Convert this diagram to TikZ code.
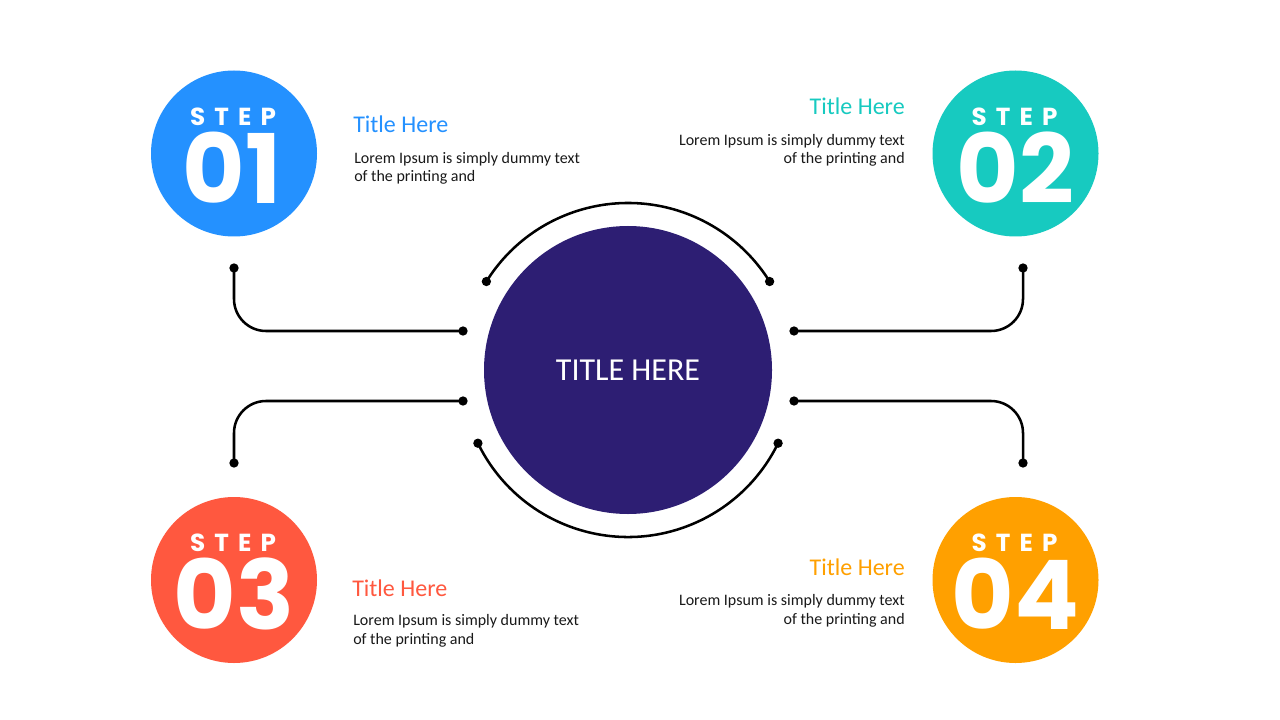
\documentclass[tikz,border=0pt]{standalone}
\usepackage{fontspec}
\setmainfont{Carlito}
\newfontfamily\stepfont[LetterSpace=37]{Poppins}
\newfontfamily\numfont{Poppins}
\usetikzlibrary{
    positioning,
    calc
}

\definecolor{stepblue}{RGB}{36,145,255}
\definecolor{stepteal}{RGB}{23,202,192}
\definecolor{stepred}{RGB}{255,88,63}
\definecolor{steporange}{RGB}{255,160,0}
\definecolor{hubnavy}{RGB}{45,30,115}
\definecolor{bodygray}{RGB}{25,25,25}

\tikzset{
  stepcircle/.style={circle, inner sep=0pt, minimum size=124.5pt},
  steptag/.style={inner sep=0pt, text=white, font=\stepfont\bfseries\fontsize{18.5}{18.5}\selectfont},
  stepnum/.style={inner sep=0pt, text=white, font=\numfont\bfseries\fontsize{72}{72}\selectfont},
  steptitle/.style={inner sep=0pt, font=\fontsize{18}{20}\selectfont},
  stepbody/.style={inner sep=0pt, text=bodygray, font=\fontsize{12}{13.8}\selectfont},
  wire/.style={line width=1.9pt, black},
  dot/.style={circle, fill=black, inner sep=0pt, minimum size=7pt}
}

\begin{document}
\begin{tikzpicture}[x=0.75pt, y=-0.75pt]

  \useasboundingbox[fill=white] (0,0) rectangle (1280,720);

  % hub {{{
  \node[
    stepcircle,
    fill=hubnavy,
    minimum size=216pt,
    text=white,
    font=\fontsize{24}{28}\selectfont
  ] (hub) at (628,370)
  {TITLE HERE};
  % }}}

  % ring {{{
  \node[dot] (ringtl) at ($(hub)+(212:167)$) {};
  \node[dot] (ringtr) at ($(hub)+(328:167)$) {};
  \node[dot] (ringbl) at ($(hub)+(154:167)$) {};
  \node[dot] (ringbr) at ($(hub)+(26:167)$) {};
  \draw[wire] (ringtl.center) arc[start angle=212, end angle=328, radius=167];
  \draw[wire] (ringbl.center) arc[start angle=154, end angle=26, radius=167];
  % }}}

  % step 01 {{{
  \node[stepcircle, fill=stepblue] (s1) at (234,153.5) {};
  \node[steptag] (s1tag) at ($(s1)+(-1,-37)$) {STEP};
  \node[stepnum] (s1num) at ($(s1)+(-2,14)$) {01};
  \node[steptitle, text=stepblue, anchor=base west] (s1title) at (353,133) {Title Here};
  \node[
    stepbody,
    align=left,
    anchor=base west
  ] (s1body) at (354,181.5)
  {Lorem Ipsum is simply dummy text\\of the printing and};
  \node[dot] (s1a) at (234,268) {};
  \node[dot] (s1b) at (463,331) {};
  \draw[wire, rounded corners=24pt] (s1a.center) |- (s1b.center);
  % }}}

  % step 02 {{{
  \node[stepcircle, fill=stepteal] (s2) at (1015.5,153.5) {};
  \node[steptag] (s2tag) at ($(s2)+(-1,-37)$) {STEP};
  \node[stepnum] (s2num) at ($(s2)+(0,14)$) {02};
  \node[steptitle, text=stepteal, anchor=base east] (s2title) at (905,115) {Title Here};
  \node[
    stepbody,
    align=right,
    anchor=base east
  ] (s2body) at (905,164)
  {Lorem Ipsum is simply dummy text\\of the printing and};
  \node[dot] (s2a) at (1023,268) {};
  \node[dot] (s2b) at (794,331) {};
  \draw[wire, rounded corners=24pt] (s2a.center) |- (s2b.center);
  % }}}

  % step 03 {{{
  \node[stepcircle, fill=stepred] (s3) at (234,580) {};
  \node[steptag] (s3tag) at ($(s3)+(-1,-37)$) {STEP};
  \node[stepnum] (s3num) at ($(s3)+(0,14)$) {03};
  \node[steptitle, text=stepred, anchor=base west] (s3title) at (352,596) {Title Here};
  \node[
    stepbody,
    align=left,
    anchor=base west
  ] (s3body) at (353,644)
  {Lorem Ipsum is simply dummy text\\of the printing and};
  \node[dot] (s3a) at (234,463) {};
  \node[dot] (s3b) at (463,401) {};
  \draw[wire, rounded corners=24pt] (s3b.center) -| (s3a.center);
  % }}}

  % step 04 {{{
  \node[stepcircle, fill=steporange] (s4) at (1015.5,580) {};
  \node[steptag] (s4tag) at ($(s4)+(-1,-37)$) {STEP};
  \node[stepnum] (s4num) at ($(s4)+(0,14)$) {04};
  \node[steptitle, text=steporange, anchor=base east] (s4title) at (905,575.3) {Title Here};
  \node[
    stepbody,
    align=right,
    anchor=base east
  ] (s4body) at (905,624)
  {Lorem Ipsum is simply dummy text\\of the printing and};
  \node[dot] (s4a) at (1023,463) {};
  \node[dot] (s4b) at (794,401) {};
  \draw[wire, rounded corners=24pt] (s4b.center) -| (s4a.center);
  % }}}

\end{tikzpicture}
\end{document}
